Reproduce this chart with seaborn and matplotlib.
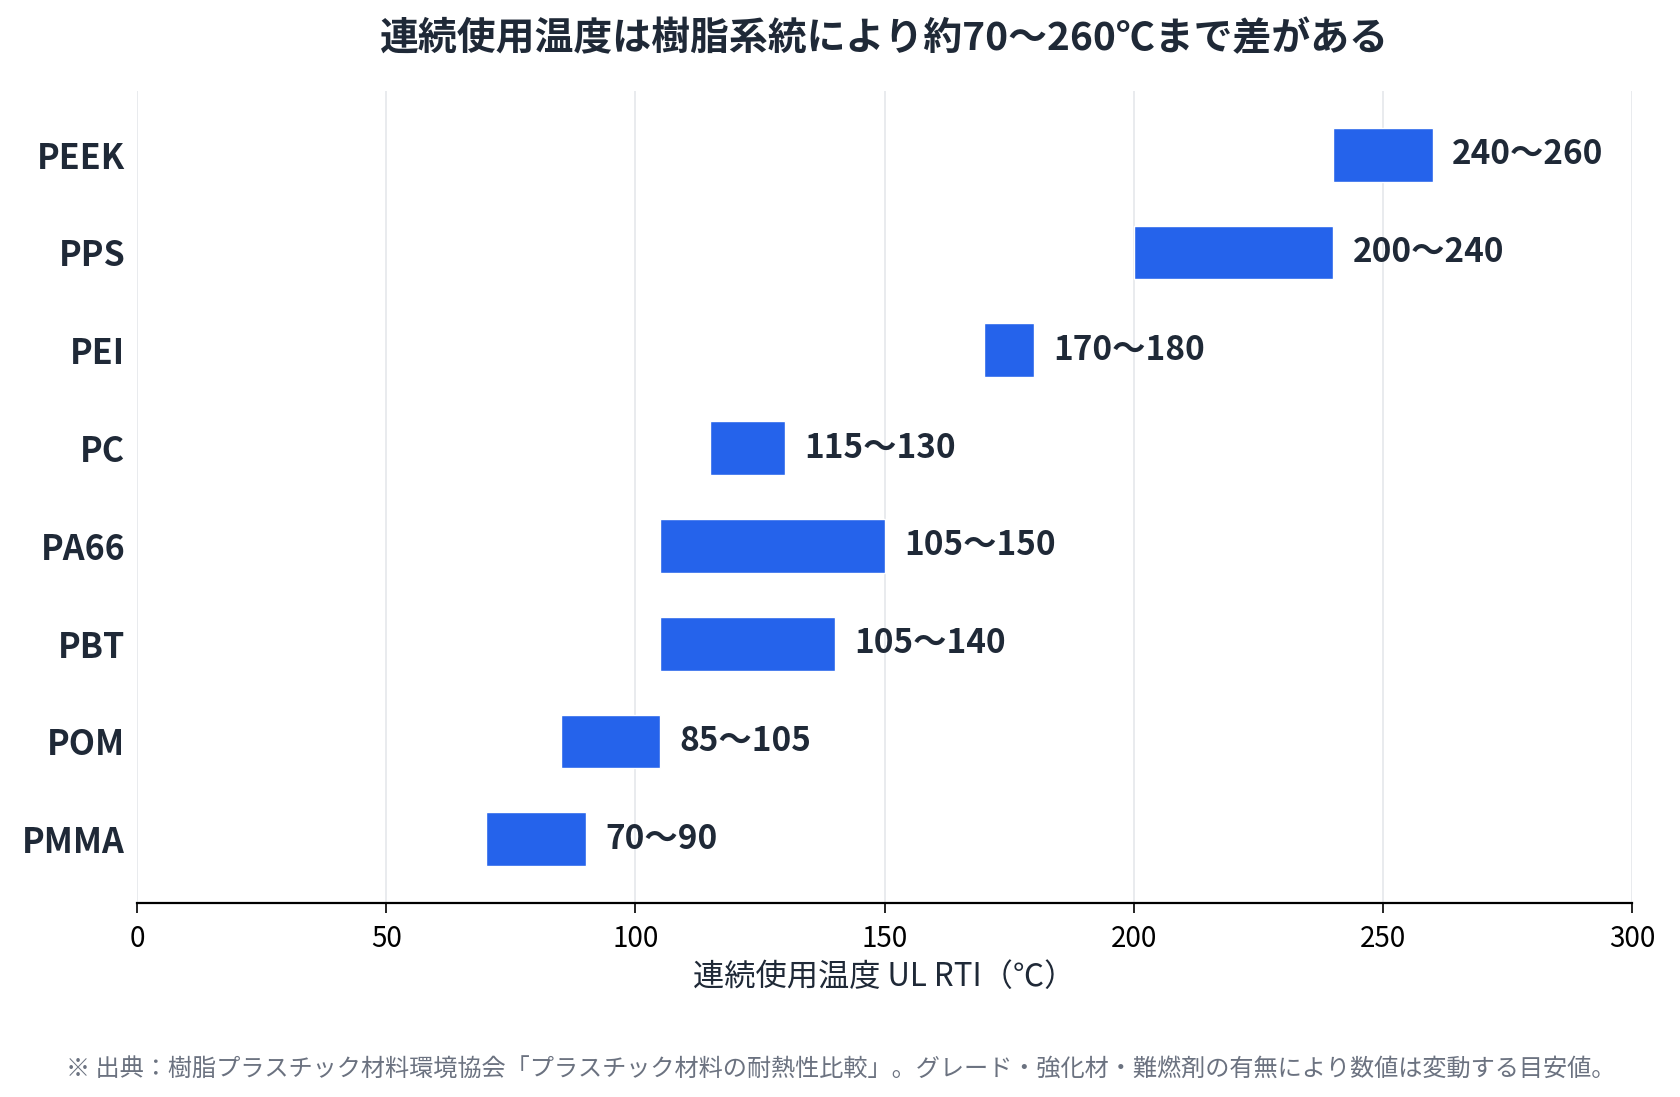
import pandas as pd
import seaborn as sns
from matplotlib import pyplot as plt

resins = ["PEEK", "PPS", "PEI", "PC", "PA66", "PBT", "POM", "PMMA"]
low = [240, 200, 170, 115, 105, 105, 85, 70]
high = [260, 240, 180, 130, 150, 140, 105, 90]

title = "連続使用温度は樹脂系統により約70～260℃まで差がある"
xlabel = "連続使用温度 UL RTI（℃）"
note = "※ 出典：樹脂プラスチック材料環境協会「プラスチック材料の耐熱性比較」。グレード・強化材・難燃剤の有無により数値は変動する目安値。"

def main():
    df = pd.DataFrame({"resin": resins, "low": low, "high": high})
    df["span"] = df["high"] - df["low"]

    sns.set_style("white")
    plt.rcParams["font.family"] = ["Noto Sans CJK JP", "DejaVu Sans"]
    dark = "#1f2937"

    fig = plt.figure(figsize=(16.81, 10.97), dpi=100)
    left, width = 0.0815, 0.8895
    ax = fig.add_axes([left, 0.177, width, 0.74])

    # barh の left に下限値を渡して範囲バーにする
    sns.barplot(data=df, y="resin", x="span", order=resins, orient="y",
                color="#2563eb", saturation=1, width=0.55, errorbar=None,
                left=df["low"].values, ax=ax, zorder=3)

    for i, (lo, hi) in enumerate(zip(low, high)):
        ax.annotate(f"{lo}～{hi}", xy=(hi, i), xytext=(14, 0), textcoords="offset points",
                    va="center", ha="left", fontsize=24, fontweight="semibold", color=dark)

    ax.set_xlim(0, 300)
    ax.set_ylim(7.65, -0.65)
    ax.set_xticks(range(0, 301, 50))
    ax.grid(axis="x", color="#e5e7eb", linewidth=1.2, zorder=0)
    ax.set_axisbelow(True)
    for s in ["top", "right", "left"]:
        ax.spines[s].set_visible(False)
    ax.spines["bottom"].set_color("black")
    ax.spines["bottom"].set_linewidth(1.6)

    ax.tick_params(axis="x", bottom=True, length=7, width=1.2, color="black",
                   labelsize=20, labelcolor="black", pad=8)
    ax.tick_params(axis="y", left=False, pad=5)
    for lab in ax.get_yticklabels():
        lab.set_fontsize(24.5)
        lab.set_fontweight("bold")
        lab.set_color(dark)

    ax.set_ylabel("")
    ax.set_xlabel(xlabel, fontsize=22.5, color=dark, labelpad=5)

    fig.text(left + width / 2, 0.965, title, ha="center", va="center",
             fontsize=28, fontweight="bold", color=dark)
    fig.text(0.5, 0.025, note, ha="center", va="center", fontsize=17.4, color="#6b7280")

    plt.savefig("out.png", dpi=100)

if __name__ == "__main__":
    main()
